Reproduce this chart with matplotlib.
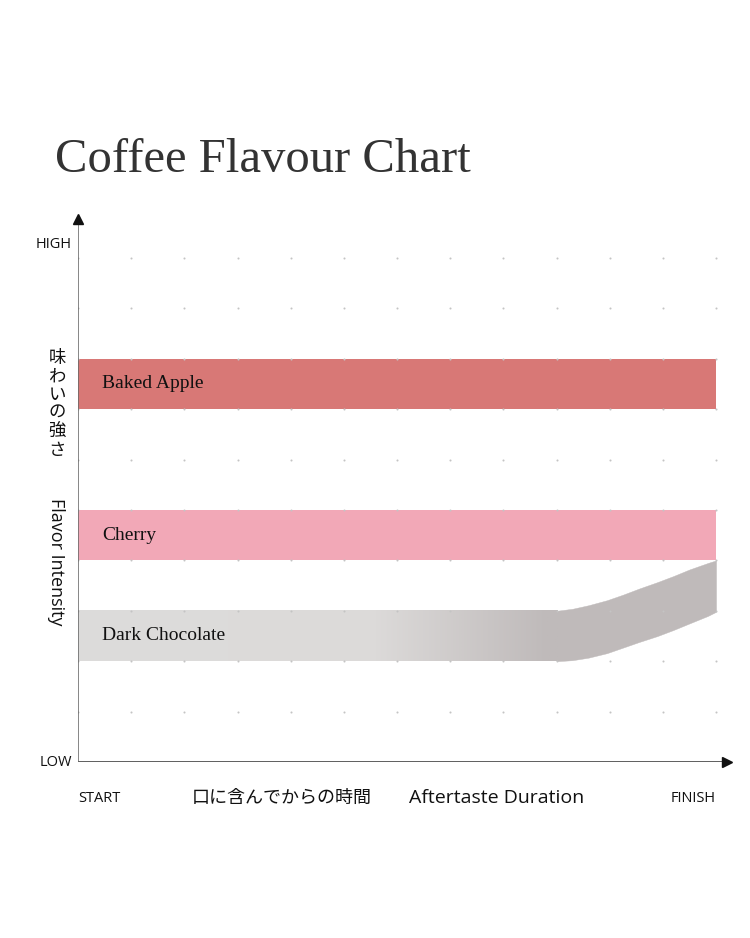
import numpy as np
import matplotlib.pyplot as plt
from matplotlib.colors import LinearSegmentedColormap

# Flavour bands (x: time 0..12, y: intensity 0..10)
flat_names = ['Baked Apple', 'Cherry']
flat_lower = [7, 4]
flat_upper = [8, 5]
flat_colors = ['#d87876', '#f2a8b7']

# Dark chocolate: flat part with gradient, then rising near the finish
choc_flat_end = 9.0
choc_flat_lower = 2
choc_flat_upper = 3
choc_x = [9.0, 9.3, 9.6, 9.95, 10.25, 10.55, 10.9, 11.2, 11.5, 11.85, 12.0]
choc_upper = [3.0, 3.04, 3.11, 3.21, 3.32, 3.44, 3.57, 3.69, 3.82, 3.95, 4.0]
choc_lower = [2.0, 2.02, 2.07, 2.16, 2.27, 2.38, 2.50, 2.62, 2.75, 2.90, 2.98]
choc_stops = [(0.0, '#dddcdb'), (0.62, '#dcdad9'), (0.98, '#bfbaba'), (1.0, '#bfbaba')]
choc_end_color = '#bfbaba'

x_steps = 12
y_steps = 10

jp = ['Noto Sans CJK JP', 'DejaVu Sans']
sans = ['Open Sans', 'Noto Sans CJK JP', 'DejaVu Sans']
serif = ['Liberation Serif', 'DejaVu Serif']

fig = plt.figure(figsize=(7.5, 9.38), dpi=100)
ax = fig.add_axes([78 / 750, (938 - 762) / 938, 12.3 * 53.17 / 750, 10.9 * 50.4 / 938])
ax.axis('off')

# dotted grid
gx, gy = np.meshgrid(np.arange(0, x_steps + 1), np.arange(1, y_steps + 1))
ax.scatter(gx.ravel(), gy.ravel(), s=2.2, color='#c4c4c4', zorder=3, linewidths=0)

# flat bands
for name, lo, hi, c in zip(flat_names, flat_lower, flat_upper, flat_colors):
    ax.fill_between([0, x_steps], lo, hi, color=c, linewidth=0, zorder=2)
    ax.text(0.45, (lo + hi) / 2, name, fontsize=14, family=serif, va='center', ha='left',
            color='#111111', zorder=4)

# dark chocolate: gradient across the flat part
cmap = LinearSegmentedColormap.from_list('choc', choc_stops)
grad = np.linspace(0, 1, 512).reshape(1, -1)
ax.imshow(grad, extent=[0, choc_flat_end + 0.01, choc_flat_lower, choc_flat_upper], aspect='auto',
          cmap=cmap, zorder=2, interpolation='bilinear')
# rising part
ax.fill_between(choc_x, choc_lower, choc_upper, color=choc_end_color, linewidth=0.3,
                edgecolor=choc_end_color, zorder=2)
ax.set_xlim(0, 12.3)
ax.set_ylim(0, 10.9)
ax.text(0.45, 2.5, 'Dark Chocolate', fontsize=14, family=serif, va='center', ha='left',
        color='#111111', zorder=4)

# axes: lines plus black triangle heads
ax.plot([0, 12.15], [0, 0], color='#333333', lw=1.1, zorder=5, solid_capstyle='butt')
ax.plot([0, 0], [0, 10.75], color='#666666', lw=1.1, zorder=5, solid_capstyle='butt')
ax.plot([12.2], [0], marker='>', markersize=7, color='#111111', zorder=6, clip_on=False)
ax.plot([0], [10.78], marker='^', markersize=7, color='#111111', zorder=6, clip_on=False)

# title
fig.text(55 / 750, 1 - 172 / 938, 'Coffee Flavour Chart', fontsize=35, family=serif,
         color='#333333', ha='left', va='baseline')


def ftext(px, py, s, **kw):
    fig.text(px / 750, 1 - py / 938, s, **kw)


ftext(72, 245, 'HIGH', fontsize=10.5, family=sans, ha='right', va='center', color='#111111')
ftext(72, 762, 'LOW', fontsize=10.5, family=sans, ha='right', va='center', color='#111111')
ftext(78, 798, 'START', fontsize=10.5, family=sans, ha='left', va='center', color='#111111')
ftext(716, 798, 'FINISH', fontsize=10.5, family=sans, ha='right', va='center', color='#111111')
ftext(282, 798, '口に含んでからの時間', fontsize=13, family=jp, ha='center', va='center', color='#111111')
ftext(497, 798, 'Aftertaste Duration', fontsize=14, family=sans, ha='center', va='center', color='#111111')
ftext(57, 404, '\n'.join('味わいの強さ'), fontsize=12.5, family=jp, ha='center', va='center',
      color='#111111', linespacing=1.02)
ftext(56, 562, 'Flavor Intensity', fontsize=13, family=sans, ha='center', va='center',
      rotation=-90, color='#111111')

fig.savefig('out.png', dpi=100)
